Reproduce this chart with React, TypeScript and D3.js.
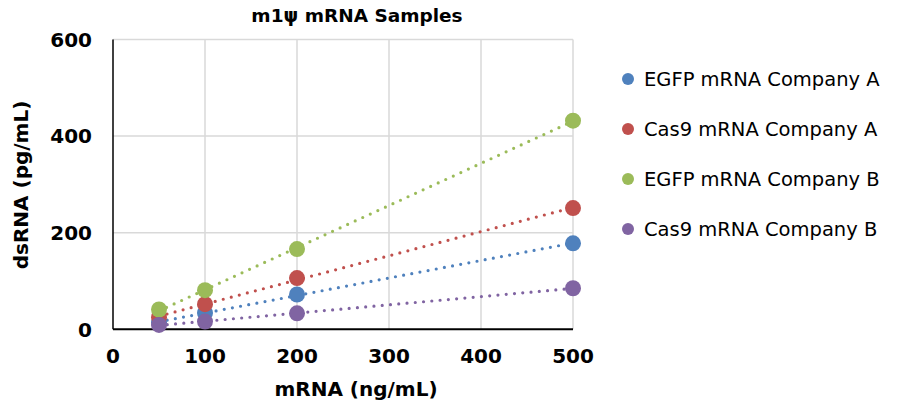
import React from "react";
import * as d3 from "d3";

const xValues = [50, 100, 200, 500];
const seriesNames = ["EGFP mRNA Company A", "Cas9 mRNA Company A", "EGFP mRNA Company B", "Cas9 mRNA Company B"];
const egfpA = [14, 34, 72, 178];
const cas9A = [25, 52, 106, 251];
const egfpB = [41, 81, 166, 432];
const cas9B = [9, 16, 33, 85];
const seriesValues = [egfpA, cas9A, egfpB, cas9B];
const colors = ["#4F81BD", "#C0504D", "#9BBB59", "#8064A2"];
const xTicks = [0, 100, 200, 300, 400, 500];
const yTicks = [0, 200, 400, 600];

const W = 900, H = 412;
const left = 113, right = 573, top = 39.5, bottom = 329.3;
const font = "'DejaVu Sans', Verdana, sans-serif";

function fit(xs: number[], ys: number[]) {
  const mx = d3.mean(xs)!, my = d3.mean(ys)!;
  let num = 0, den = 0;
  xs.forEach((x, i) => { num += (x - mx) * (ys[i] - my); den += (x - mx) ** 2; });
  const b = num / den;
  return { a: my - b * mx, b };
}

export default function App() {
  const x = d3.scaleLinear().domain([0, 500]).range([left, right]);
  const y = d3.scaleLinear().domain([0, 600]).range([bottom, top]);
  const x0 = d3.min(xValues)!, x1 = d3.max(xValues)!;
  return (
    <svg width={W} height={H} style={{ position: "absolute", left: 0, top: 0, background: "#fff" }} fontFamily={font}>
      <text x={357} y={22} textAnchor="middle" fontSize={18.5} fontWeight="bold">m1ψ mRNA Samples</text>
      {xTicks.filter(t => t > 0).map(t => (
        <line key={"gx" + t} x1={x(t)} x2={x(t)} y1={top} y2={bottom} stroke="#d9d9d9" strokeWidth={1.5} />
      ))}
      {yTicks.filter(t => t > 0).map(t => (
        <line key={"gy" + t} x1={left} x2={right} y1={y(t)} y2={y(t)} stroke="#d9d9d9" strokeWidth={1.5} />
      ))}
      <line x1={left} x2={left} y1={top} y2={bottom} stroke="#000" strokeWidth={1.5} />
      <line x1={left} x2={right} y1={bottom} y2={bottom} stroke="#000" strokeWidth={2} />
      {yTicks.map(t => (
        <text key={"yt" + t} x={92} y={y(t)} dy="0.36em" textAnchor="end" fontSize={20} fontWeight="bold">{t}</text>
      ))}
      {xTicks.map(t => (
        <text key={"xt" + t} x={x(t)} y={363} textAnchor="middle" fontSize={20} fontWeight="bold">{t}</text>
      ))}
      <text x={356} y={396} textAnchor="middle" fontSize={20} fontWeight="bold">mRNA (ng/mL)</text>
      <text transform={`translate(28,185) rotate(-90)`} textAnchor="middle" fontSize={20} fontWeight="bold">dsRNA (pg/mL)</text>
      {seriesValues.map((vals, i) => {
        const f = fit(xValues, vals);
        return (
          <line key={"tr" + i} x1={x(x0)} y1={y(f.a + f.b * x0)} x2={x(x1)} y2={y(f.a + f.b * x1)}
            stroke={colors[i]} strokeWidth={3.2} strokeLinecap="round" strokeDasharray="0 8.3" />
        );
      })}
      {seriesValues.map((vals, i) => (
        <g key={"pts" + i}>
          {vals.map((v, j) => (
            <circle key={j} cx={x(xValues[j])} cy={y(v)} r={8} fill={colors[i]} />
          ))}
        </g>
      ))}
      {seriesNames.map((n, i) => (
        <g key={"lg" + i} transform={`translate(0,${79 + i * 50})`}>
          <circle cx={628} cy={0} r={6} fill={colors[i]} />
          <text x={644} y={0} dy="0.36em" fontSize={19.5}>{n}</text>
        </g>
      ))}
    </svg>
  );
}
